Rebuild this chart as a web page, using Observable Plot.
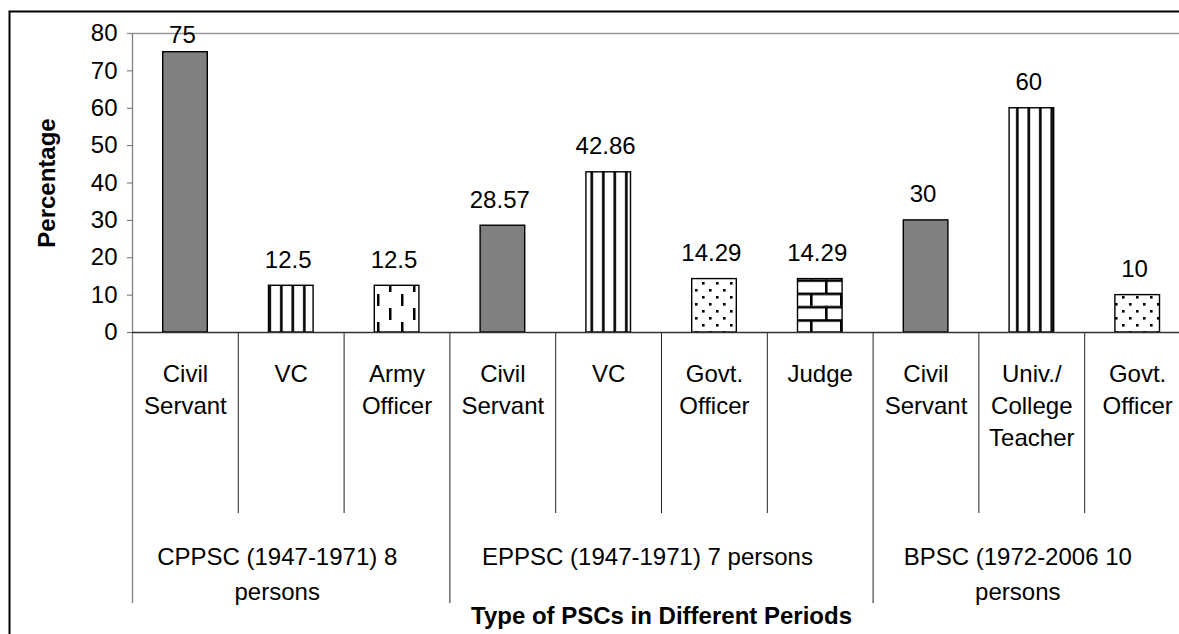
<!DOCTYPE html>
<html><head><meta charset="utf-8">
<script src="https://cdn.jsdelivr.net/npm/d3@7"></script>
<script src="https://cdn.jsdelivr.net/npm/@observablehq/plot@0.6"></script>
<style>
html,body{margin:0;padding:0;background:#fff;overflow:hidden;}
</style></head><body><div id="chart"></div>
<script>
// ---- data ----
const groups = ["CPPSC (1947-1971) 8\npersons", "EPPSC (1947-1971) 7 persons", "BPSC (1972-2006 10\npersons"];
const groupSizes = [3, 4, 3];
const categories = ["Civil\nServant", "VC", "Army\nOfficer", "Civil\nServant", "VC", "Govt.\nOfficer", "Judge", "Civil\nServant", "Univ./\nCollege\nTeacher", "Govt.\nOfficer"];
const values = [75, 12.5, 12.5, 28.57, 42.86, 14.29, 14.29, 30, 60, 10];
const valueLabels = ["75", "12.5", "12.5", "28.57", "42.86", "14.29", "14.29", "30", "60", "10"];
const yTicks = [0, 10, 20, 30, 40, 50, 60, 70, 80];
const yTitle = "Percentage";
const xTitle = "Type of PSCs in Different Periods";

// ---- styling by occupation ----
const fillByRole = {
  "Civil Servant": "#808080",
  "VC": "url(#vstripe)",
  "Univ./ College Teacher": "url(#vstripe)",
  "Army Officer": "url(#vdash)",
  "Govt. Officer": "url(#dots)",
  "Judge": "url(#brick)"
};

const rows = categories.map((c, i) => ({i, cat: c, value: values[i], label: valueLabels[i], role: c.replace(/\n/g, " ")}));
const bounds = [0];
groupSizes.forEach(s => bounds.push(bounds[bounds.length - 1] + s));
const groupRows = groups.map((g, k) => ({text: g, center: (bounds[k] + bounds[k + 1]) / 2}));
const groupBounds = bounds;
const innerBounds = d3.range(1, categories.length).filter(b => !groupBounds.includes(b));

const W = 1179, H = 634;
const mTop = 33, mBottom = 302, mLeft = 132;
const yMax = 80;
const pxPerUnit = (H - mTop - mBottom) / yMax;
const labelY = v => Math.min(v + 18 / pxPerUnit, yMax - 9.3 / pxPerUnit);
const FONT = 24;

const plot = Plot.plot({
  width: W, height: H,
  marginTop: mTop, marginBottom: mBottom, marginLeft: mLeft, marginRight: 0,
  x: {type: "linear", domain: [0, categories.length], range: [mLeft, 1190], axis: null},
  y: {domain: [0, yMax], axis: null},
  color: {type: "identity"},
  style: {fontFamily: "'Liberation Sans', Arial, sans-serif", fontSize: FONT + "px", color: "black", background: "white"},
  marks: [
    // outer chart border
    Plot.frame({stroke: "black", strokeWidth: 2, insetLeft: -123, insetTop: -22, insetRight: -20, insetBottom: -330}),
    // plot area top border
    Plot.ruleY([yMax], {y: d => d, insetLeft: -5, stroke: "#999", strokeWidth: 1.5}),
    // y tick marks
    Plot.ruleY(yTicks.filter(t => t < yMax), {y: d => d, x1: 0, x2: 0, insetLeft: -5, stroke: "#666"}),
    // y tick labels
    Plot.text(yTicks, {y: d => d, text: d => String(d), frameAnchor: "left", dx: -15, textAnchor: "end", fontSize: FONT}),
    // bars
    Plot.rectY(rows, {x1: d => d.i, x2: d => d.i + 1, y: "value", insetLeft: 30.7, insetRight: 30.5,
      fill: d => fillByRole[d.role], stroke: "black", strokeWidth: 1.4}),
    // category separators
    Plot.ruleX(innerBounds, {x: d => d, insetTop: 299, insetBottom: -181, stroke: "#222"}),
    Plot.ruleX(groupBounds.slice(1), {x: d => d, insetTop: 299, insetBottom: -271, stroke: "#222"}),
    // y axis line (extended down)
    Plot.ruleX([0], {x: d => d, insetBottom: -271, stroke: "#808080", strokeWidth: 1.3}),
    // x axis line
    Plot.ruleY([0], {y: d => d, stroke: "#333", strokeWidth: 1.3}),
    // value labels
    Plot.text(rows, {x: d => d.i + 0.5, y: d => labelY(d.value), text: "label", dx: -3, dy: -0.32 * FONT, fontSize: FONT}),
    // category labels
    Plot.text(rows, {x: d => d.i + 0.5, text: "cat", frameAnchor: "bottom", lineAnchor: "top", dy: 27, fontSize: FONT, lineHeight: 1.33}),
    // group labels
    Plot.text(groupRows, {x: "center", text: "text", frameAnchor: "bottom", lineAnchor: "top", dy: 208, dx: -14, fontSize: FONT, lineHeight: 1.46}),
    // x title
    Plot.text([xTitle], {x: () => categories.length / 2, text: d => d, frameAnchor: "bottom", lineAnchor: "top", dy: 274, fontSize: FONT, fontWeight: "bold"}),
    // y title
    Plot.text([yTitle], {text: d => d, frameAnchor: "left", textAnchor: "middle", rotate: -90, dx: -85, fontSize: FONT, fontWeight: "bold"})
  ]
});

d3.select(plot).insert("defs", ":first-child").html(`
<pattern id="vstripe" patternUnits="userSpaceOnUse" width="11.5" height="10">
  <rect width="11.5" height="10" fill="white"/><rect x="4" y="0" width="2.6" height="10" fill="black"/>
</pattern>
<pattern id="vdash" patternUnits="userSpaceOnUse" width="24" height="28">
  <rect width="24" height="28" fill="white"/>
  <rect x="5" y="0" width="2.5" height="12" fill="black"/>
  <rect x="17" y="14" width="2.5" height="12" fill="black"/>
</pattern>
<pattern id="dots" patternUnits="userSpaceOnUse" width="14" height="14">
  <rect width="14" height="14" fill="white"/>
  <rect x="2" y="2" width="2.6" height="2.6" fill="black"/>
  <rect x="9" y="9" width="2.6" height="2.6" fill="black"/>
</pattern>
<pattern id="brick" patternUnits="userSpaceOnUse" width="30" height="26.6">
  <rect width="30" height="26.6" fill="white"/>
  <rect x="0" y="0" width="30" height="2.6" fill="black"/>
  <rect x="0" y="13.3" width="30" height="2.6" fill="black"/>
  <rect x="0" y="0" width="2.6" height="13.3" fill="black"/>
  <rect x="15" y="13.3" width="2.6" height="13.3" fill="black"/>
</pattern>`);

document.getElementById("chart").appendChild(plot);
</script>
</body></html>
